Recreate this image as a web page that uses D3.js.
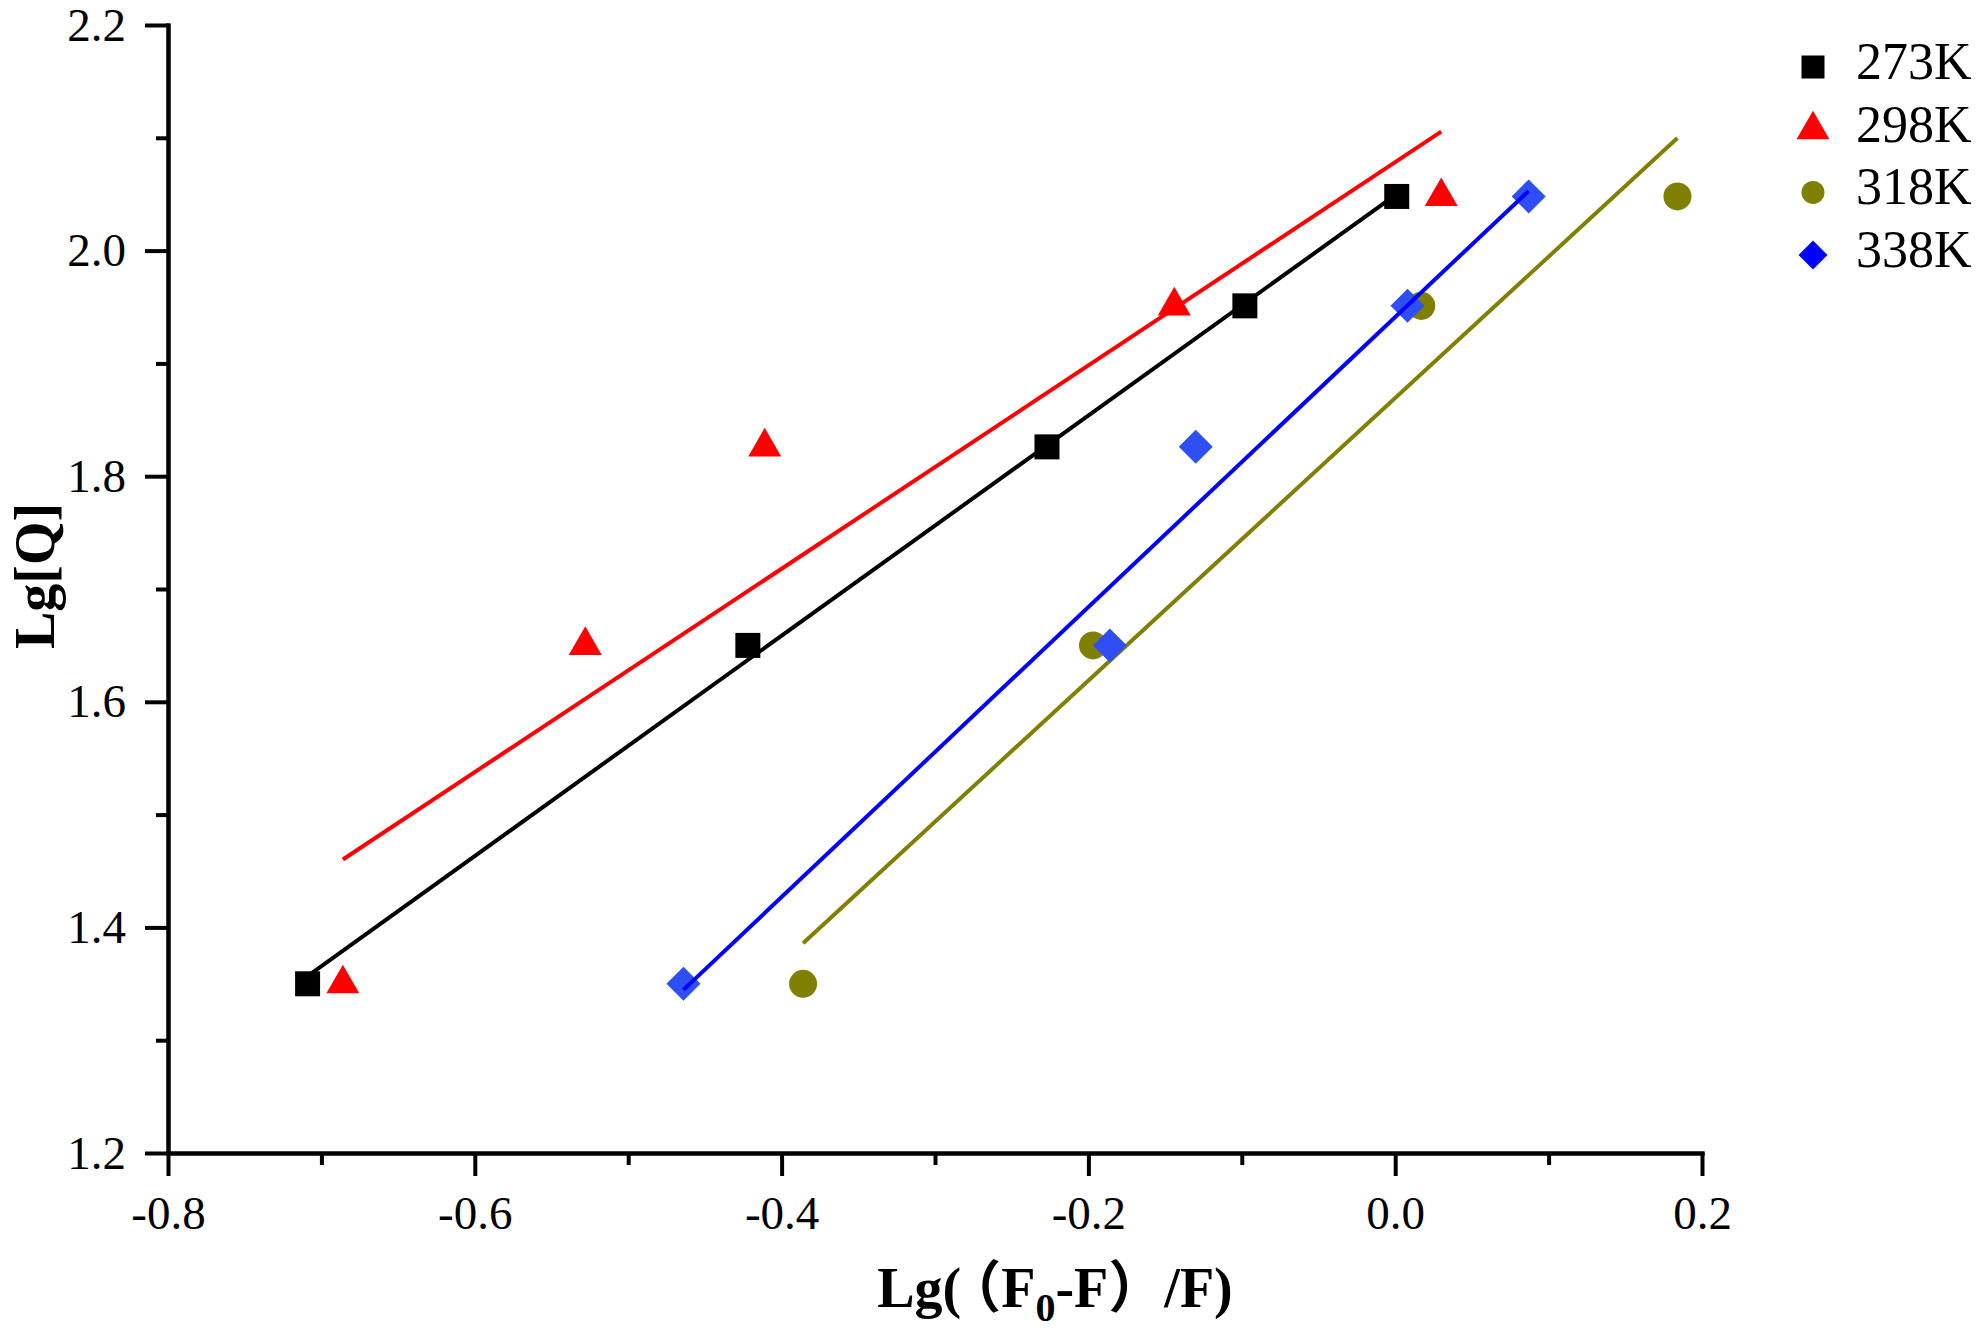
<!DOCTYPE html>
<html>
<head>
<meta charset="utf-8">
<script src="https://cdn.jsdelivr.net/npm/d3@7"></script>
<style>
  body { margin: 0; background: #fff; }
  text { font-family: "Liberation Serif", "Times New Roman", "Noto Sans CJK SC", serif; }
</style>
</head>
<body>
<script>
// data
var seriesNames = ["273K", "298K", "318K", "338K"];
var x273 = [-0.709, -0.422, -0.227, -0.098, 0.001];
var y273 = [1.35, 1.65, 1.826, 1.951, 2.048];
var x298 = [-0.686, -0.528, -0.411, -0.144, 0.030];
var y298 = [1.35, 1.65, 1.826, 1.951, 2.048];
var x318 = [-0.386, -0.197, 0.017, 0.184];
var y318 = [1.35, 1.65, 1.951, 2.048];
var x338 = [-0.464, -0.186, -0.130, 0.008, 0.087];
var y338 = [1.35, 1.65, 1.826, 1.951, 2.048];

var xTicks = [-0.8, -0.6, -0.4, -0.2, 0.0, 0.2];
var xMinor = [-0.7, -0.5, -0.3, -0.1, 0.1];
var yTicks = [1.2, 1.4, 1.6, 1.8, 2.0, 2.2];
var yMinor = [1.3, 1.5, 1.7, 1.9, 2.1];

// setup
var margin = { top: 25, right: 281, bottom: 178, left: 168 };
var W = 1983, H = 1331;
var width = W - margin.left - margin.right;
var height = H - margin.top - margin.bottom;

var svg = d3.select("body").append("svg")
    .attr("width", W)
    .attr("height", H);
var g = svg.append("g")
    .attr("transform", "translate(" + margin.left + "," + margin.top + ")");

var x = d3.scaleLinear().domain([-0.8, 0.2]).range([0, width]);
var y = d3.scaleLinear().domain([1.2, 2.2]).range([height, 0]);

var styles = [
  { name: seriesNames[0], xs: x273, ys: y273, shape: d3.symbolSquare, size: 625, rot: 0, fill: "#000000", line: "#000000", legSize: 529, legFill: "#000000" },
  { name: seriesNames[1], xs: x298, ys: y298, shape: d3.symbolTriangle, size: 471, rot: 0, fill: "#ff0000", line: "#ff0000", legSize: 471, legFill: "#ff0000" },
  { name: seriesNames[2], xs: x318, ys: y318, shape: d3.symbolCircle, size: 616, rot: 0, fill: "#808000", line: "#808000", legSize: 415, legFill: "#808000" },
  { name: seriesNames[3], xs: x338, ys: y338, shape: d3.symbolSquare, size: 578, rot: 45, fill: "#2f4ff5", line: "#0000ff", legSize: 420, legFill: "#0000ff" }
];

// least squares fit
function fit(xs, ys) {
  var mx = d3.mean(xs), my = d3.mean(ys);
  var sxy = 0, sxx = 0;
  for (var i = 0; i < xs.length; i++) {
    sxy += (xs[i] - mx) * (ys[i] - my);
    sxx += (xs[i] - mx) * (xs[i] - mx);
  }
  var b = sxy / sxx;
  return function (v) { return my + b * (v - mx); };
}

// axes (plain hyphen for negatives, like the original)
var fmt = function (d) { return d.toFixed(1); };
var xAxis = g.append("g")
    .attr("transform", "translate(0," + height + ")")
    .call(d3.axisBottom(x).tickValues(xTicks).tickFormat(fmt).tickSize(23).tickSizeOuter(0).tickPadding(20));
var xAxisMinor = g.append("g")
    .attr("transform", "translate(0," + height + ")")
    .call(d3.axisBottom(x).tickValues(xMinor).tickFormat("").tickSize(12).tickSizeOuter(0));
var yAxis = g.append("g")
    .call(d3.axisLeft(y).tickValues(yTicks).tickFormat(fmt).tickSize(23).tickSizeOuter(0).tickPadding(19));
var yAxisMinor = g.append("g")
    .call(d3.axisLeft(y).tickValues(yMinor).tickFormat("").tickSize(12).tickSizeOuter(0));

[xAxis, xAxisMinor, yAxis, yAxisMinor].forEach(function (a) {
  a.select(".domain").attr("stroke", "#000").attr("stroke-width", 4).attr("stroke-linecap", "square");
  a.selectAll(".tick line").attr("stroke", "#000").attr("stroke-width", 4);
  a.selectAll(".tick text").attr("fill", "#000").style("font-size", "47px")
      .style("font-family", "'Liberation Serif', serif");
});

// marks
styles.forEach(function (s) {
  var pts = s.xs.map(function (v, i) { return { x: v, y: s.ys[i] }; });
  g.append("g").selectAll("path")
      .data(pts)
      .enter().append("path")
      .attr("d", d3.symbol().type(s.shape).size(s.size))
      .attr("transform", function (d) { return "translate(" + x(d.x) + "," + y(d.y) + ") rotate(" + s.rot + ")"; })
      .attr("fill", s.fill);

  var f = fit(s.xs, s.ys);
  var ext = d3.extent(s.xs);
  var line = d3.line()
      .x(function (d) { return x(d); })
      .y(function (d) { return y(f(d)); });
  g.append("path")
      .datum(ext)
      .attr("fill", "none")
      .attr("stroke", s.line)
      .attr("stroke-width", 4)
      .attr("d", line);
});

// legend
var legend = svg.append("g").attr("transform", "translate(1813,67)");
var rows = legend.selectAll("g")
    .data(styles)
    .enter().append("g")
    .attr("transform", function (d, i) { return "translate(0," + (i * 62.7) + ")"; });
rows.append("path")
    .attr("d", function (d) { return d3.symbol().type(d.shape).size(d.legSize)(); })
    .attr("transform", function (d) { return "rotate(" + d.rot + ")"; })
    .attr("fill", function (d) { return d.legFill; });
rows.append("text")
    .attr("x", 43)
    .attr("y", 12)
    .style("font-size", "52px")
    .text(function (d) { return d.name; });

// axis titles
var xt = svg.append("text")
    .attr("x", 1055)
    .attr("y", 1307)
    .attr("text-anchor", "middle")
    .style("font-size", "56px")
    .style("font-weight", "bold");
xt.append("tspan").text("Lg(");
xt.append("tspan").attr("dx", 12).text("\uFF08F");
xt.append("tspan").attr("dy", 14).style("font-size", "40px").text("0");
xt.append("tspan").attr("dy", -14).text("-F\uFF09/F)");

svg.append("text")
    .attr("transform", "translate(54,576) rotate(-90)")
    .attr("text-anchor", "middle")
    .style("font-size", "56px")
    .style("font-weight", "bold")
    .text("Lg[Q]");
</script>
</body>
</html>
